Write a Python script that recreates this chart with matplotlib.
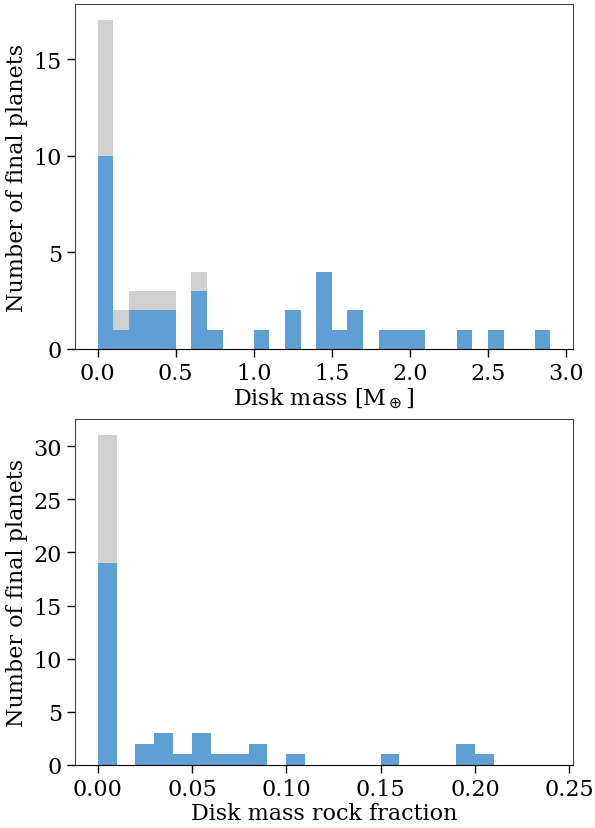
import numpy as np
import matplotlib
matplotlib.use('Agg')
import matplotlib.pyplot as plt

plt.rcParams['font.family'] = 'DejaVu Serif'

# Disk mass histogram (bins of 0.1 M_earth, left edges)
mass_all = [17, 2, 3, 3, 3, 0, 4, 1, 0, 0, 1, 0, 2, 0, 4, 1, 2, 0, 1, 1,
            1, 0, 0, 1, 0, 1, 0, 0, 1]
mass_sel = [10, 1, 2, 2, 2, 0, 3, 1, 0, 0, 1, 0, 2, 0, 4, 1, 2, 0, 1, 1,
            1, 0, 0, 1, 0, 1, 0, 0, 1]

# Rock fraction histogram (bins of 0.01, left edges)
rock_all = [31, 0, 2, 3, 1, 3, 1, 1, 2, 0, 1, 0, 0, 0, 0, 1, 0, 0, 0, 2,
            1, 0, 0, 0]
rock_sel = [19, 0, 2, 3, 1, 3, 1, 1, 2, 0, 1, 0, 0, 0, 0, 1, 0, 0, 0, 2,
            1, 0, 0, 0]

gray = '#d0d0d0'
blue = '#5f9fd3'

fig = plt.figure(figsize=(5.95, 8.29), dpi=100)
ax1 = fig.add_axes([75/595, 1-350/829, 498/595, 345/829])
ax2 = fig.add_axes([75/595, 1-766/829, 498/595, 346/829])

x1 = np.arange(len(mass_all)) * 0.1
ax1.bar(x1, mass_all, width=0.1, align='edge', color=gray)
ax1.bar(x1, mass_sel, width=0.1, align='edge', color=blue)
ax1.set_xlim(-0.145, 3.045)
ax1.set_ylim(0, 17.85)
ax1.set_xticks([0.0, 0.5, 1.0, 1.5, 2.0, 2.5, 3.0])
ax1.set_yticks([0, 5, 10, 15])
ax1.set_xlabel(r'Disk mass [M$_\oplus$]', fontsize=16, labelpad=1)
ax1.set_ylabel('Number of final planets', fontsize=16)

x2 = np.arange(len(rock_all)) * 0.01
ax2.bar(x2, rock_all, width=0.01, align='edge', color=gray)
ax2.bar(x2, rock_sel, width=0.01, align='edge', color=blue)
ax2.set_xlim(-0.012, 0.252)
ax2.set_ylim(0, 32.55)
ax2.set_xticks([0.0, 0.05, 0.10, 0.15, 0.20, 0.25])
ax2.set_xticklabels(['0.00', '0.05', '0.10', '0.15', '0.20', '0.25'])
ax2.set_yticks([0, 5, 10, 15, 20, 25, 30])
ax2.set_xlabel('Disk mass rock fraction', fontsize=16, labelpad=1)
ax2.set_ylabel('Number of final planets', fontsize=16)

for ax in (ax1, ax2):
    ax.tick_params(labelsize=16, length=6, width=1)
    for s in ax.spines.values():
        s.set_color('#444444')
    ax.spines['bottom'].set_color('black')

fig.savefig('out.png', dpi=100)
